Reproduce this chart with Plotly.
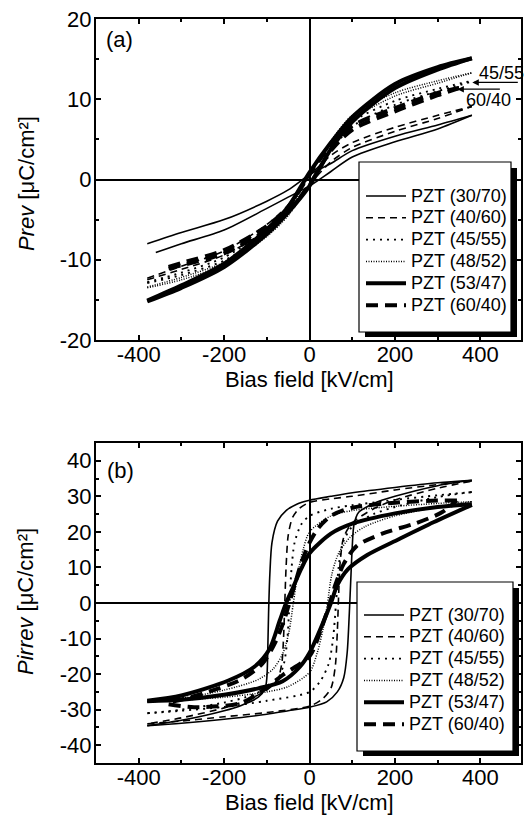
import plotly.graph_objects as go

W, H = 526, 817

# ---------------- data: panel (a) reversible polarization ----------------
labels = ["PZT (30/70)", "PZT (40/60)", "PZT (45/55)", "PZT (48/52)", "PZT (53/47)", "PZT (60/40)"]

x_tickvals = [-400, -200, 0, 200, 400]
x_ticktext = ["-400", "-200", "0", "200", "400"]
ya_tickvals = [-20, -10, 0, 10, 20]
ya_ticktext = ["-20", "-10", "0", "10", "20"]
yb_tickvals = [-40, -30, -20, -10, 0, 10, 20, 30, 40]
yb_ticktext = ["-40", "-30", "-20", "-10", "0", "10", "20", "30", "40"]

grid_a = [-380, -300, -200, -100, -50, 0, 50, 100, 200, 300, 380]

a3070_dn_x = grid_a
a3070_dn_y = [-8.0, -6.6, -5.0, -2.7, -1.3, 0.6, 2.0, 3.6, 5.4, 6.8, 8.0]
a3070_up_x = [-360, -300, -200, -100, -50, 0, 50, 100, 200, 300, 380]
a3070_up_y = [-9.1, -8.0, -6.3, -3.6, -2.2, -0.8, 1.0, 2.8, 4.7, 6.3, 8.0]

a4060_dn_x = grid_a
a4060_dn_y = [-12.3, -10.8, -8.9, -5.6, -3.2, 0.4, 3.0, 4.6, 6.5, 8.0, 9.1]
a4060_up_x = grid_a
a4060_up_y = [-12.5, -11.2, -9.4, -6.3, -3.8, -0.6, 2.2, 4.0, 6.0, 7.6, 9.1]

a4555_dn_x = grid_a
a4555_dn_y = [-12.8, -11.6, -9.7, -6.2, -3.6, 0.6, 4.4, 7.2, 9.8, 11.3, 12.3]
a4555_up_x = grid_a
a4555_up_y = [-12.9, -11.9, -10.1, -6.7, -4.2, -0.5, 3.6, 6.6, 9.3, 11.0, 12.2]

a4852_dn_x = grid_a
a4852_dn_y = [-13.4, -12.2, -10.3, -6.6, -3.9, 0.6, 4.8, 8.0, 10.8, 12.3, 13.3]
a4852_up_x = grid_a
a4852_up_y = [-13.5, -12.5, -10.6, -7.1, -4.5, -0.6, 4.0, 7.4, 10.4, 12.0, 13.3]

a5347_dn_x = grid_a
a5347_dn_y = [-15.1, -13.2, -10.5, -6.2, -3.4, 0.9, 4.6, 7.8, 11.9, 14.0, 15.1]
a5347_up_x = grid_a
a5347_up_y = [-15.2, -13.5, -10.9, -6.8, -4.1, -0.8, 3.8, 7.2, 11.4, 13.7, 15.1]

a6040_dn_x = [-330, -300, -200, -100, -50, 0, 50, 100, 200, 300, 350]
a6040_dn_y = [-10.9, -10.4, -8.8, -5.8, -3.4, 0.6, 4.3, 6.7, 8.9, 10.8, 11.4]
a6040_up_x = [-330, -300, -200, -100, -50, 0, 50, 100, 200, 300, 350]
a6040_up_y = [-11.1, -10.7, -9.2, -6.3, -4.0, -0.6, 3.6, 6.2, 8.5, 10.5, 11.4]

# ---------------- data: panel (b) irreversible polarization ----------------
b3070_dn_x = [380, 300, 200, 100, 50, 0, -30, -55, -75, -88, -93, -96, -98, -100, -104, -120, -160, -200, -300, -380]
b3070_dn_y = [34.5, 33.8, 32.5, 31.0, 30.0, 28.9, 27.8, 26.0, 23.0, 17.0, 8.0, -3.0, -14.0, -21.0, -24.0, -26.5, -28.8, -30.3, -33.0, -34.5]
b3070_up_x = [-380, -300, -200, -100, -50, 0, 40, 65, 80, 88, 93, 97, 100, 104, 115, 150, 200, 300, 380]
b3070_up_y = [-34.5, -33.8, -32.7, -31.3, -30.3, -29.3, -27.8, -25.0, -21.0, -14.0, -3.0, 8.0, 16.0, 22.0, 25.5, 28.0, 30.0, 33.0, 34.5]

b4060_dn_x = [380, 300, 200, 100, 50, 0, -25, -40, -50, -55, -58, -61, -65, -75, -100, -150, -200, -300, -380]
b4060_dn_y = [34.3, 33.3, 31.8, 30.0, 29.3, 28.3, 26.5, 24.0, 19.0, 10.0, 0.0, -10.0, -17.0, -21.5, -24.5, -27.5, -29.5, -32.3, -34.0]
b4060_up_x = [-380, -300, -200, -100, 0, 30, 50, 60, 65, 68, 72, 80, 100, 150, 200, 300, 380]
b4060_up_y = [-34.0, -33.2, -32.0, -30.8, -29.0, -27.0, -24.0, -18.0, -8.0, 2.0, 12.0, 18.5, 22.5, 26.5, 29.0, 32.3, 34.3]

b4555_dn_x = [380, 300, 200, 100, 50, 0, -20, -35, -42, -47, -52, -60, -75, -100, -150, -200, -300, -380]
b4555_dn_y = [31.2, 30.3, 29.0, 27.5, 26.5, 24.5, 22.0, 17.0, 10.0, 0.0, -10.0, -17.0, -21.5, -24.0, -26.5, -28.0, -30.0, -31.0]
b4555_up_x = [-380, -300, -200, -100, 0, 25, 45, 55, 62, 68, 78, 100, 150, 200, 300, 380]
b4555_up_y = [-31.0, -30.3, -29.2, -27.5, -25.0, -22.0, -17.0, -10.0, 0.0, 10.0, 17.0, 21.5, 25.0, 27.0, 29.8, 31.2]

b4852_dn_x = [380, 300, 200, 100, 50, 0, -15, -28, -38, -48, -62, -85, -120, -200, -300, -380]
b4852_dn_y = [28.5, 28.0, 27.2, 26.0, 24.5, 20.0, 15.0, 8.0, 0.0, -8.0, -14.0, -18.5, -21.5, -24.5, -26.8, -27.8]
b4852_up_x = [-380, -300, -200, -100, -50, 0, 18, 32, 42, 52, 68, 95, 130, 200, 300, 380]
b4852_up_y = [-27.8, -27.3, -26.5, -25.0, -23.5, -19.5, -14.0, -7.0, 0.0, 8.0, 14.0, 18.5, 21.5, 24.5, 27.0, 28.5]

b5347_dn_x = [380, 300, 200, 100, 50, 0, -20, -40, -55, -70, -94, -130, -190, -300, -380]
b5347_dn_y = [27.8, 27.0, 25.2, 22.3, 19.5, 14.0, 9.5, 4.0, 0.0, -5.0, -13.0, -18.0, -21.8, -26.0, -27.5]
b5347_up_x = [-380, -300, -200, -120, -63, -23, 0, 30, 50, 65, 90, 135, 210, 290, 380]
b5347_up_y = [-27.6, -27.2, -25.8, -24.0, -22.0, -18.0, -14.0, -6.0, 0.0, 5.0, 9.5, 13.5, 18.0, 22.7, 27.6]

b6040_dn_x = [345, 300, 200, 100, 50, 20, 0, -20, -35, -50, -60, -80, -110, -160, -250, -330]
b6040_dn_y = [28.8, 28.8, 28.2, 26.8, 24.5, 21.0, 17.0, 11.0, 5.0, -1.0, -5.0, -11.0, -17.0, -21.5, -25.5, -28.0]
b6040_up_x = [-330, -270, -165, -120, -60, 0, 25, 45, 60, 80, 110, 170, 250, 310, 345]
b6040_up_y = [-28.5, -29.3, -28.3, -25.5, -20.0, -15.0, -8.0, -1.0, 5.0, 11.0, 16.0, 19.5, 22.5, 25.5, 28.8]

# ---------------- styles ----------------
styles = [
    dict(width=1.6, dash="solid"),
    dict(width=1.6, dash="7px,5px"),
    dict(width=1.9, dash="2px,5px"),
    dict(width=1.5, dash="1px,1.5px"),
    dict(width=4.0, dash="solid"),
    dict(width=4.0, dash="12px,7px"),
]

panel_a = [
    (a3070_dn_x, a3070_dn_y, a3070_up_x, a3070_up_y),
    (a4060_dn_x, a4060_dn_y, a4060_up_x, a4060_up_y),
    (a4555_dn_x, a4555_dn_y, a4555_up_x, a4555_up_y),
    (a4852_dn_x, a4852_dn_y, a4852_up_x, a4852_up_y),
    (a5347_dn_x, a5347_dn_y, a5347_up_x, a5347_up_y),
    (a6040_dn_x, a6040_dn_y, a6040_up_x, a6040_up_y),
]
panel_b = [
    (b3070_dn_x, b3070_dn_y, b3070_up_x, b3070_up_y),
    (b4060_dn_x, b4060_dn_y, b4060_up_x, b4060_up_y),
    (b4555_dn_x, b4555_dn_y, b4555_up_x, b4555_up_y),
    (b4852_dn_x, b4852_dn_y, b4852_up_x, b4852_up_y),
    (b5347_dn_x, b5347_dn_y, b5347_up_x, b5347_up_y),
    (b6040_dn_x, b6040_dn_y, b6040_up_x, b6040_up_y),
]

FONT = "Liberation Sans, Arial, sans-serif"
fig = go.Figure()

def add_panel(data, xa, ya, legend, tag):
    for i, (dx, dy, ux, uy) in enumerate(data):
        st = styles[i]
        for k, (xs, ys) in enumerate([(dx, dy), (ux, uy)]):
            fig.add_trace(go.Scatter(
                x=xs, y=ys, mode="lines", xaxis=xa, yaxis=ya,
                line=dict(color="black", width=st["width"], dash=st["dash"], shape="spline", smoothing=0.8),
                name='<span style="font-size:18px">' + labels[i] + '</span>',
                legend=legend, legendgroup=tag + str(i),
                showlegend=(k == 0), hoverinfo="x+y",
            ))

add_panel(panel_a, "x", "y", "legend", "a")
add_panel(panel_b, "x2", "y2", "legend2", "b")

def px_x(p):
    return p / W

def px_y(p):
    return 1 - p / H

xdom = [px_x(96), px_x(521)]
tick_style = dict(
    showline=True, linecolor="black", linewidth=2, mirror="ticks",
    ticks="inside", ticklen=5, tickwidth=1.5, tickcolor="black",
    showgrid=False, zeroline=True, zerolinecolor="black", zerolinewidth=1.8,
    tickfont=dict(size=22, color="black", family=FONT), tickmode="array",
)
minor_x = dict(ticks="inside", ticklen=3, tickwidth=1.5, tickcolor="black", dtick=100, tick0=0)
minor_y = dict(ticks="inside", ticklen=3, tickwidth=1.5, tickcolor="black", dtick=5, tick0=0)
fig.update_layout(
    width=W, height=H,
    margin=dict(l=0, r=0, t=0, b=0, autoexpand=False),
    paper_bgcolor="white", plot_bgcolor="white",
    font=dict(family=FONT, color="black"),
    xaxis=dict(domain=xdom, anchor="y", range=[-500, 495], tickvals=x_tickvals, ticktext=x_ticktext,
               ticklabelstandoff=-6, minor=minor_x, **tick_style),
    yaxis=dict(domain=[px_y(340), px_y(19)], anchor="x", range=[-20, 20],
               tickvals=ya_tickvals, ticktext=ya_ticktext, ticklabelstandoff=-2, minor=minor_y, **tick_style),
    xaxis2=dict(domain=xdom, anchor="y2", range=[-500, 495], tickvals=x_tickvals, ticktext=x_ticktext,
                ticklabelstandoff=-6, minor=minor_x, **tick_style),
    yaxis2=dict(domain=[px_y(763), px_y(443)], anchor="x2", range=[-45, 45],
                tickvals=yb_tickvals, ticktext=yb_ticktext, ticklabelstandoff=-2, minor=minor_y, **tick_style),
    legend=dict(x=px_x(361), y=px_y(180), xanchor="left", yanchor="top",
                bgcolor="rgba(0,0,0,0)", borderwidth=0, tracegroupgap=0, itemwidth=40,
                font=dict(size=14.5, family=FONT, color="black")),
    legend2=dict(x=px_x(359), y=px_y(599), xanchor="left", yanchor="top",
                 bgcolor="rgba(0,0,0,0)", borderwidth=0, tracegroupgap=0, itemwidth=40,
                 font=dict(size=14.5, family=FONT, color="black")),
    showlegend=True,
)

shapes = []
for (x0, y0, x1, y1) in [(359, 162, 511, 332), (357, 582, 513, 751)]:
    shapes.append(dict(type="rect", xref="paper", yref="paper",
                       x0=px_x(x0 + 6), x1=px_x(x1 + 6), y0=px_y(y1 + 5), y1=px_y(y0 + 6),
                       fillcolor="black", line=dict(width=0), layer="above"))
    shapes.append(dict(type="rect", xref="paper", yref="paper",
                       x0=px_x(x0), x1=px_x(x1), y0=px_y(y1), y1=px_y(y0),
                       fillcolor="white", line=dict(color="black", width=1.2), layer="above"))
fig.update_layout(shapes=shapes)

def txt(size):
    return dict(size=size, family=FONT, color="black")

ann = []
ann.append(dict(x=-444, y=17.4, xref="x", yref="y", text="(a)", showarrow=False, font=txt(22),
                xanchor="center", yanchor="middle"))
ann.append(dict(x=-442, y=37.3, xref="x2", yref="y2", text="(b)", showarrow=False, font=txt(22),
                xanchor="center", yanchor="middle"))
for yc in [379, 802]:
    ann.append(dict(x=px_x(309), y=px_y(yc), xref="paper", yref="paper", text="Bias field [kV/cm]",
                    showarrow=False, font=txt(22), xanchor="center", yanchor="middle"))
ann.append(dict(x=px_x(26), y=px_y(184), xref="paper", yref="paper", text="<i>Prev</i> [μC/cm²]",
                textangle=-90, showarrow=False, font=txt(22), xanchor="center", yanchor="middle"))
ann.append(dict(x=px_x(25), y=px_y(602), xref="paper", yref="paper", text="<i>Pirrev</i> [μC/cm²]",
                textangle=-90, showarrow=False, font=txt(22), xanchor="center", yanchor="middle"))
ann.append(dict(x=449, y=13.3, xref="x", yref="y", text="45/55", showarrow=False, font=txt(18),
                xanchor="center", yanchor="middle"))
ann.append(dict(x=419, y=9.9, xref="x", yref="y", text="60/40", showarrow=False, font=txt(18),
                xanchor="center", yanchor="middle"))
ann.append(dict(x=381, y=12.1, xref="x", yref="y", ax=47, ay=0, text="", showarrow=True,
                arrowhead=2, arrowsize=1, arrowwidth=1.3, arrowcolor="black", standoff=0))
ann.append(dict(x=346, y=11.25, xref="x", yref="y", ax=44, ay=0, text="", showarrow=True,
                arrowhead=2, arrowsize=1, arrowwidth=1.3, arrowcolor="black", standoff=0))
fig.update_layout(annotations=ann)

fig.write_html("out.html", config={"displayModeBar": False},
               post_script="document.body.style.margin='0';")
